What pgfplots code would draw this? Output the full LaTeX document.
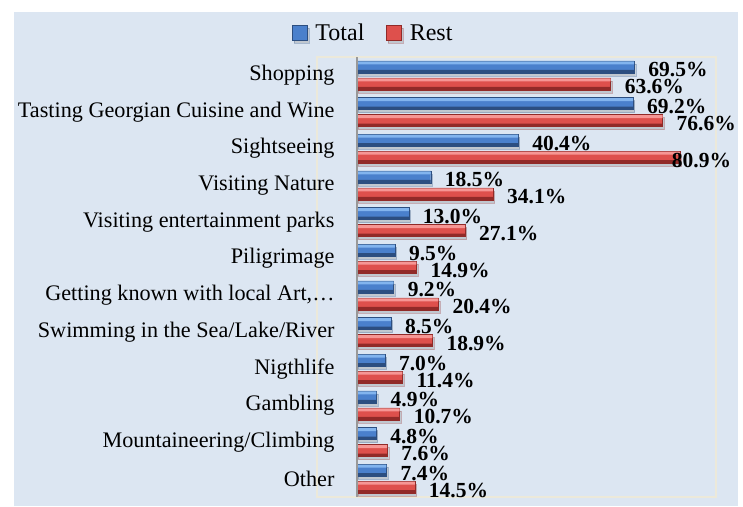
\documentclass[border=0pt]{standalone}
\usepackage{fontspec}
\setmainfont{Liberation Serif}
\usepackage{pgfplots}
\usepackage{pgfplotstable}
\pgfplotsset{compat=1.18}
\usetikzlibrary{shadows}
\definecolor{bg}{RGB}{220,230,242}
\definecolor{frame}{RGB}{236,233,218}
\definecolor{btop}{RGB}{130,180,238}
\definecolor{bmid}{RGB}{74,128,204}
\definecolor{bbot}{RGB}{44,78,128}
\definecolor{rtop}{RGB}{246,150,148}
\definecolor{rmid}{RGB}{222,80,76}
\definecolor{rbot}{RGB}{145,42,40}
\pgfplotstableread{
idx total tsh rest rsh
0 69.5 14 63.6 14
1 69.2 14 76.6 14
2 40.4 14 80.9 -8
3 18.5 14 34.1 14
4 13.0 14 27.1 14
5 9.5 14 14.9 14
6 9.2 14 20.4 14
7 8.5 14 18.9 14
8 7.0 14 11.4 14
9 4.9 14 10.7 14
10 4.8 14 7.6 14
11 7.4 14 14.5 14
}\data
\begin{document}
\begin{tikzpicture}
\fill[white] (0,0) rectangle (743pt,506pt);
\fill[bg] (14pt,0) rectangle (738pt,494pt);
\begin{axis}[
  at={(317pt,9pt)}, anchor=south west,
  scale only axis, width=399pt, height=440pt,
  xbar, bar width=12pt,
  xmin=-10, xmax=90,
  ymin=-0.5, ymax=11.5, y dir=reverse,
  axis line style={draw=frame, line width=1.5pt},
  xtick=\empty,
  ytick={0,...,11},
  yticklabels={Shopping,Tasting Georgian Cuisine and Wine,Sightseeing,Visiting Nature,Visiting entertainment parks,Piligrimage,{Getting known with local Art,…},Swimming in the Sea/Lake/River,Nigthlife,Gambling,Mountaineering/Climbing,Other},
  yticklabel style={font=\fontsize{22.2}{24}\selectfont, xshift=21pt},
  major tick length=0pt,
  point meta=x,
  /pgf/number format/assume math mode=true,
  legend style={draw=none, fill=none, at={(0.141,1.0545)}, anchor=center, legend columns=2, font=\fontsize{24}{26}\selectfont, column sep=6pt, nodes={inner sep=2pt}, /tikz/every even column/.append style={column sep=20pt}},
  legend image code/.code={\path[#1] (0pt,-7pt) rectangle (15pt,8pt);},
  vals/.style={
    nodes near coords={\pgfmathprintnumber[fixed,fixed zerofill,precision=1]{\pgfplotspointmeta}\%},
    every node near coord/.append style={font=\fontsize{21.5}{24}\selectfont\bfseries, anchor=west, inner sep=0pt, yshift=-3pt, xshift=\sh pt}},
]
\addplot[bar shift=8.5pt, draw=bbot, line width=0.4pt, fill=bmid,
  drop shadow={opacity=0.3, shadow xshift=1.5pt, shadow yshift=-3pt},
  visualization depends on={\thisrow{tsh} \as \sh}, vals]
  table[x=total, y=idx] {\data};
\addlegendentry{Total}
\addplot[bar shift=-8.5pt, draw=rbot, line width=0.4pt, fill=rmid,
  drop shadow={opacity=0.3, shadow xshift=1.5pt, shadow yshift=-3pt},
  visualization depends on={\thisrow{rsh} \as \sh}, vals]
  table[x=rest, y=idx] {\data};
\addlegendentry{Rest}
% bevel highlights and shades
\addplot[forget plot, bar shift=12.5pt, bar width=3pt, draw=none, fill=btop] table[x=total, y=idx] {\data};
\addplot[forget plot, bar shift=4pt, bar width=3pt, draw=none, fill=bbot] table[x=total, y=idx] {\data};
\addplot[forget plot, bar shift=-4.5pt, bar width=3pt, draw=none, fill=rtop] table[x=rest, y=idx] {\data};
\addplot[forget plot, bar shift=-13pt, bar width=3pt, draw=none, fill=rbot] table[x=rest, y=idx] {\data};
\draw[gray!80, line width=1.5pt] (axis cs:0,-0.5) -- (axis cs:0,11.5);
\end{axis}
\end{tikzpicture}
\end{document}
